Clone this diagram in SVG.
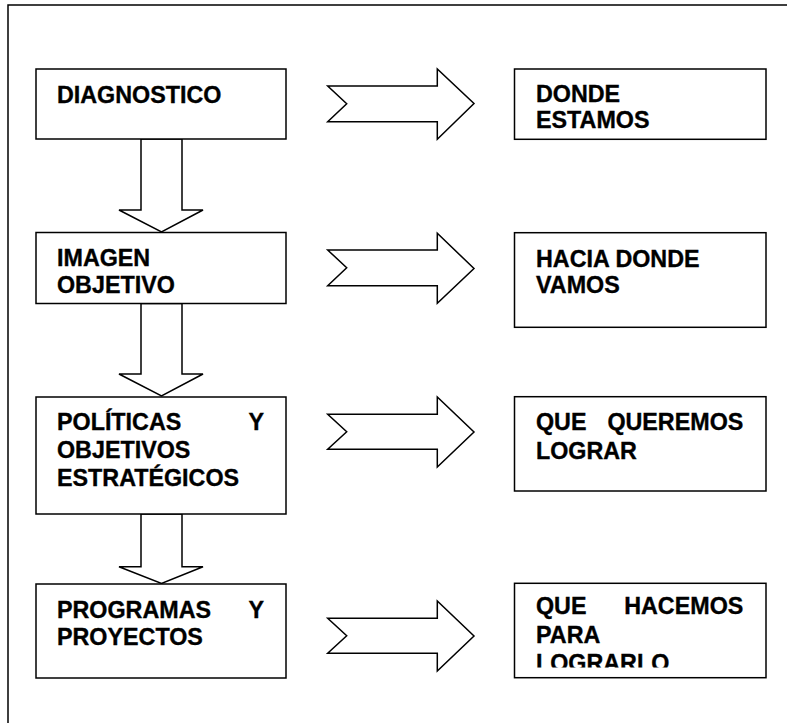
<svg xmlns="http://www.w3.org/2000/svg" width="787" height="723" viewBox="0 0 787 723">
<style>
.box{fill:#fff;stroke:#000;stroke-width:1.5}
.arr{fill:#fff;stroke:#000;stroke-width:1.5;stroke-linejoin:miter}
.t{font-family:"Liberation Sans",Arial,sans-serif;font-weight:bold;font-size:23.3px;fill:#000;stroke:#000;stroke-width:0.35}
.e{text-anchor:end}
</style>
<defs>
<clipPath id="clip4"><rect x="515" y="584" width="250" height="83.5"/></clipPath>
</defs>
<rect x="0" y="0" width="787" height="723" fill="#fff"/>
<rect id="frame" x="8" y="5" width="800" height="740" fill="none" stroke="#000" stroke-width="1.5"/>

<g id="connectors">
<polygon class="arr" points="141,139 182,139 182,210 203,210 161.5,232 119,210 141,210"/>
<polygon class="arr" points="141,303.5 182,303.5 182,374 203,374 161.5,396 119,374 141,374"/>
<polygon class="arr" points="141,514 182,514 182,566.7 203,566.7 161.5,583.5 119,566.7 141,566.7"/>
<polygon class="arr" points="327.7,86 437.3,86 437.3,69 474,103.5 437.3,139.3 437.3,121.7 327.7,121.7 346.7,103.8"/>
<polygon class="arr" points="327.7,250 437.3,250 437.3,233.3 474,268.5 437.3,303.3 437.3,285.7 327.7,285.7 346.7,267.8"/>
<polygon class="arr" points="327.7,414.3 437.3,414.3 437.3,397 474,432 437.3,467 437.3,449.3 327.7,449.3 346.7,431.8"/>
<polygon class="arr" points="327.7,618.3 437.3,618.3 437.3,601 474,636 437.3,671 437.3,653.3 327.7,653.3 346.7,635.8"/>
</g>

<g id="n1">
<rect class="box" x="36" y="69" width="250" height="70"/>
<text class="t" x="57" y="102.5">DIAGNOSTICO</text>
</g>
<g id="n2">
<rect class="box" x="36" y="232.5" width="250" height="71"/>
<text class="t" x="57" y="265.7">IMAGEN</text>
<text class="t" x="57" y="292.5">OBJETIVO</text>
</g>
<g id="n3">
<rect class="box" x="36" y="397" width="250" height="117"/>
<text class="t" x="57" y="430">POLÍTICAS</text>
<text class="t e" x="264" y="430">Y</text>
<text class="t" x="57" y="457.7">OBJETIVOS</text>
<text class="t" x="57" y="486">ESTRATÉGICOS</text>
</g>
<g id="n4">
<rect class="box" x="36" y="584" width="250" height="94"/>
<text class="t" x="57" y="617.7">PROGRAMAS</text>
<text class="t e" x="264" y="617.7">Y</text>
<text class="t" x="57" y="645">PROYECTOS</text>
</g>

<g id="r1">
<rect class="box" x="514.5" y="69" width="251.5" height="70.3"/>
<text class="t" x="536" y="101.7">DONDE</text>
<text class="t" x="536" y="128.3">ESTAMOS</text>
</g>
<g id="r2">
<rect class="box" x="514.5" y="232.7" width="251.5" height="94.6"/>
<text class="t" x="536" y="266.7">HACIA DONDE</text>
<text class="t" x="536" y="292.7">VAMOS</text>
</g>
<g id="r3">
<rect class="box" x="514.5" y="396.7" width="251.5" height="94.3"/>
<text class="t" x="536" y="430">QUE</text>
<text class="t e" x="743.3" y="430">QUEREMOS</text>
<text class="t" x="536" y="458.5">LOGRAR</text>
</g>
<g id="r4">
<rect class="box" x="514.5" y="583.3" width="251.5" height="94.4"/>
<text class="t" x="536" y="614">QUE</text>
<text class="t e" x="743.3" y="614">HACEMOS</text>
<text class="t" x="536" y="642.7">PARA</text>
<g clip-path="url(#clip4)"><text class="t" x="536" y="671">LOGRARLO</text></g>
</g>
</svg>
